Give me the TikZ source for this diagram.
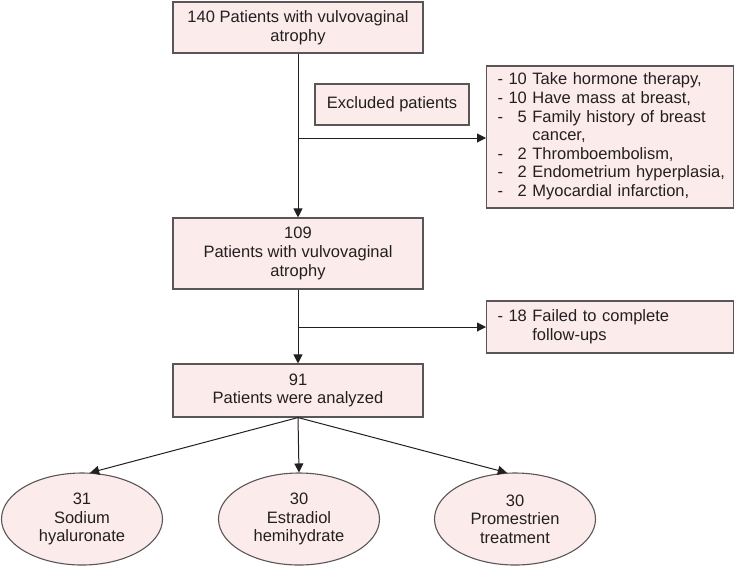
\documentclass[tikz,border=0pt]{standalone}
\usepackage{fontspec}
\setmainfont{Liberation Sans}
\usetikzlibrary{arrows.meta,shapes.geometric}
\definecolor{boxfill}{HTML}{FCEBEB}
\definecolor{boxline}{HTML}{5A5556}
\definecolor{ink}{HTML}{231F20}

\begin{document}
\begin{tikzpicture}[x=1pt,y=-1pt,line width=1pt,>={Triangle[length=9pt,width=9pt]},
  every node/.style={text=ink,font=\fontsize{16.5}{18.6}\selectfont},
  box/.style={draw=boxline,fill=boxfill,line width=1.1pt,rectangle,align=center,inner sep=0pt},
  listbox/.style={box,anchor=west,align=left,inner xsep=11pt,text width=225pt},
  oval/.style={draw=boxline,fill=boxfill,line width=1.1pt,ellipse,align=center,inner sep=0pt,
    minimum width=161pt,minimum height=92pt},
  flow/.style={->,draw=ink}]
  \useasboundingbox (0,0) rectangle (735,566);
  % main column
  \node[box,minimum width=250pt,minimum height=51pt] (start) at (298,27.5)
    {140 Patients with vulvovaginal\\atrophy};
  \node[box,minimum width=250pt,minimum height=71pt] (mid) at (298,253.5)
    {109\\Patients with vulvovaginal\\atrophy};
  \node[box,minimum width=250pt,minimum height=53pt] (final) at (298,390.5)
    {91\\Patients were analyzed};
  % side boxes
  \node[box,minimum width=154pt,minimum height=41pt] (excl) at (392,104.5) {Excluded patients};
  \node[listbox,minimum height=142pt] (reasons) at (486,137)
    {\begin{tabular}{@{}l@{\ }r@{\ }l@{}}
      - & 10 & Take hormone therapy,\\
      - & 10 & Have mass at breast,\\
      - & 5 & Family history of breast\\
        &   & cancer,\\
      - & 2 & Thromboembolism,\\
      - & 2 & Endometrium hyperplasia,\\
      - & 2 & Myocardial infarction,
    \end{tabular}};
  \node[listbox,minimum height=52pt] (fail) at (486,327)
    {\begin{tabular}{@{}l@{\ }r@{\ }l@{}}
      - & 18 & Failed to complete\\
        &    & follow-ups
    \end{tabular}};
  % groups
  \node[oval] (sodium) at (82,519) {31\\Sodium\\hyaluronate};
  \node[oval] (estradiol) at (299,519) {30\\Estradiol\\hemihydrate};
  \node[oval] (promestrien) at (515,519) {30\\Promestrien\\treatment};
  % connectors
  \coordinate (b1) at (298,138);
  \coordinate (b2) at (298,327);
  \draw[flow] (start.south) -- (mid.north);
  \draw[flow] (b1) -- (b1 -| reasons.west);
  \draw[flow] (mid.south) -- (final.north);
  \draw[flow] (b2) -- (b2 -| fail.west);
  \draw[flow] (final.south) -- (sodium.80);
  \draw[flow] (final.south) -- (estradiol.north);
  \draw[flow] (final.south) -- (promestrien.100);
\end{tikzpicture}
\end{document}
